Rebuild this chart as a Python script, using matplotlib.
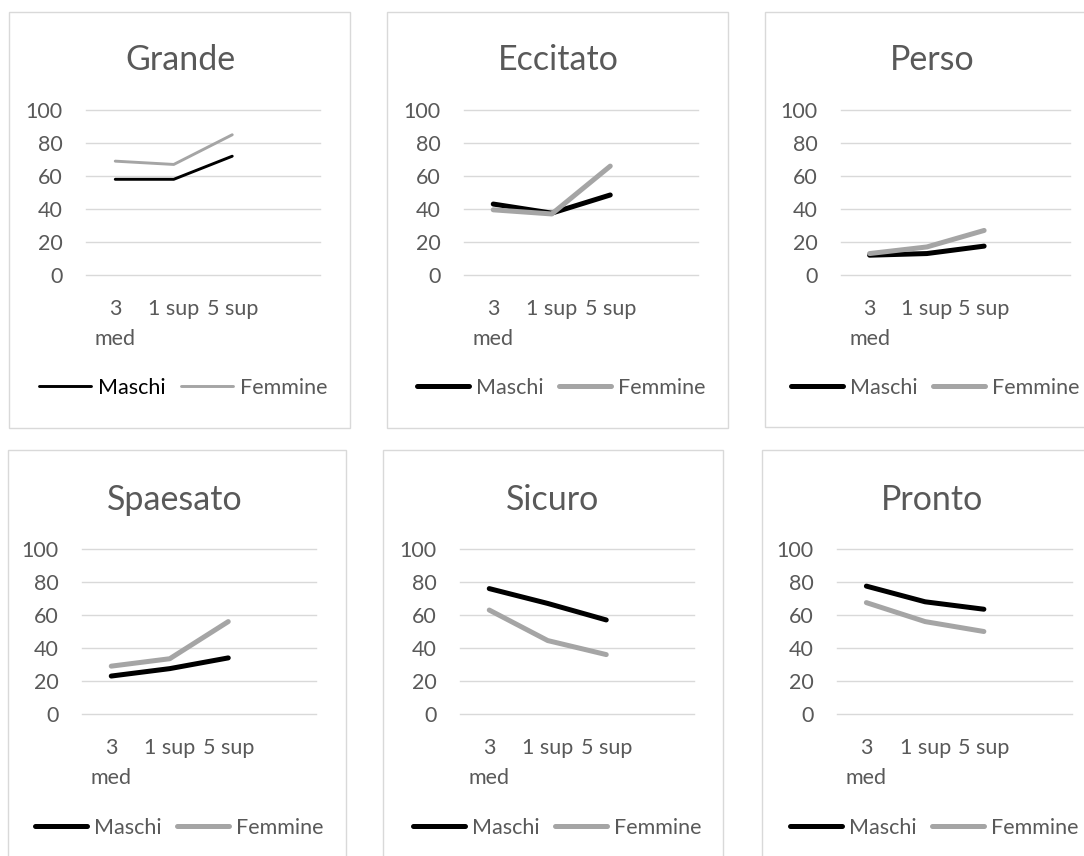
import matplotlib
matplotlib.use("Agg")
import matplotlib.pyplot as plt
from matplotlib.patches import Rectangle

W, H, DPI = 1084, 856, 100
plt.rcParams['font.family'] = ['Lato', 'DejaVu Sans']

# ---------------- data ----------------
categories = ["3\nmed", "1 sup", "5 sup"]
series_names = ["Maschi", "Femmine"]
titles = ["Grande", "Eccitato", "Perso", "Spaesato", "Sicuro", "Pronto"]
y_ticks = [0, 20, 40, 60, 80, 100]

grande_maschi = [58, 58, 72]
grande_femmine = [69, 67, 85]
eccitato_maschi = [43, 37.5, 48.5]
eccitato_femmine = [39.5, 37, 66]
perso_maschi = [12, 13, 17.5]
perso_femmine = [13, 17, 27]
spaesato_maschi = [23, 27.5, 34]
spaesato_femmine = [29, 33.5, 56]
sicuro_maschi = [76, 67, 57]
sicuro_femmine = [63, 44.5, 36]
pronto_maschi = [77.5, 68, 63.5]
pronto_femmine = [67.5, 56, 50]

maschi_all = [grande_maschi, eccitato_maschi, perso_maschi,
              spaesato_maschi, sicuro_maschi, pronto_maschi]
femmine_all = [grande_femmine, eccitato_femmine, perso_femmine,
               spaesato_femmine, sicuro_femmine, pronto_femmine]

# ---------------- layout (pixels) ----------------
boxes = [(9, 12, 350, 428), (387, 12, 728, 428), (765, 12, 1100, 427),
         (8, 450, 346, 870), (383, 450, 723, 870), (762, 450, 1100, 870)]
plots = [(86, 320, 110, 275), (464, 698, 110, 275), (841, 1070, 110, 275),
         (82, 316, 549, 714), (460, 694, 549, 714), (837, 1072, 549, 714)]
title_pos = [(180, 60), (558, 60), (932, 60), (175, 500), (553, 500), (932, 500)]
legend_pos = [(183, 388), (561, 388), (935, 388), (179, 828), (557, 828), (934, 828)]
line_w = [2.1, 3.6, 3.6, 3.6, 3.6, 3.6]

TXT = '#595959'
GRID = '#d9d9d9'
C_M = '#000000'
C_F = '#a5a5a5'
FS = 15.5

fig = plt.figure(figsize=(W / DPI, H / DPI), dpi=DPI)
fig.patch.set_facecolor('white')

def fx(p):
    return p / W

def fy(p):
    return 1 - p / H

for i in range(6):
    bx0, by0, bx1, by1 = boxes[i]
    rect = Rectangle((fx(bx0), fy(by1)), (bx1 - bx0) / W, (by1 - by0) / H,
                     transform=fig.transFigure, facecolor='white',
                     edgecolor=GRID, lw=1.0, zorder=0)
    fig.add_artist(rect)

    x0, x1, yt, yb = plots[i]
    ax = fig.add_axes([fx(x0), fy(yb), (x1 - x0) / W, (yb - yt) / H])
    ax.set_facecolor('none')
    ax.set_xlim(-0.5, 3.5)
    ax.set_ylim(0, 100)
    for s in ax.spines.values():
        s.set_visible(False)
    for v in y_ticks:
        ax.axhline(v, color=GRID, lw=1.0, clip_on=False, zorder=0)
    ax.set_yticks(y_ticks)
    ax.set_yticklabels([str(v) for v in y_ticks])
    ax.set_xticks(range(len(categories)))
    ax.set_xticklabels(categories, linespacing=1.65)
    ax.tick_params(axis='y', length=0, pad=17, labelsize=FS, labelcolor=TXT)
    ax.tick_params(axis='x', length=0, pad=17, labelsize=FS, labelcolor=TXT)

    lw = line_w[i]
    xs = list(range(len(categories)))
    lm, = ax.plot(xs, maschi_all[i], color=C_M, lw=lw,
                  solid_capstyle='round', solid_joinstyle='round', clip_on=False)
    lf, = ax.plot(xs, femmine_all[i], color=C_F, lw=lw,
                  solid_capstyle='round', solid_joinstyle='round', clip_on=False)

    leg = ax.legend([lm, lf], series_names, loc='center',
                    bbox_to_anchor=(fx(legend_pos[i][0]), fy(legend_pos[i][1])),
                    bbox_transform=fig.transFigure, ncol=2, frameon=False,
                    fontsize=FS, handlelength=2.45, handletextpad=0.3,
                    columnspacing=0.7, borderaxespad=0, borderpad=0)
    for j, t in enumerate(leg.get_texts()):
        t.set_color('#000000' if (i == 0 and j == 0) else TXT)

    fig.text(fx(title_pos[i][0]), fy(title_pos[i][1]), titles[i],
             ha='center', va='center', fontsize=24.5, color=TXT)

fig.savefig('out.png', dpi=DPI)
